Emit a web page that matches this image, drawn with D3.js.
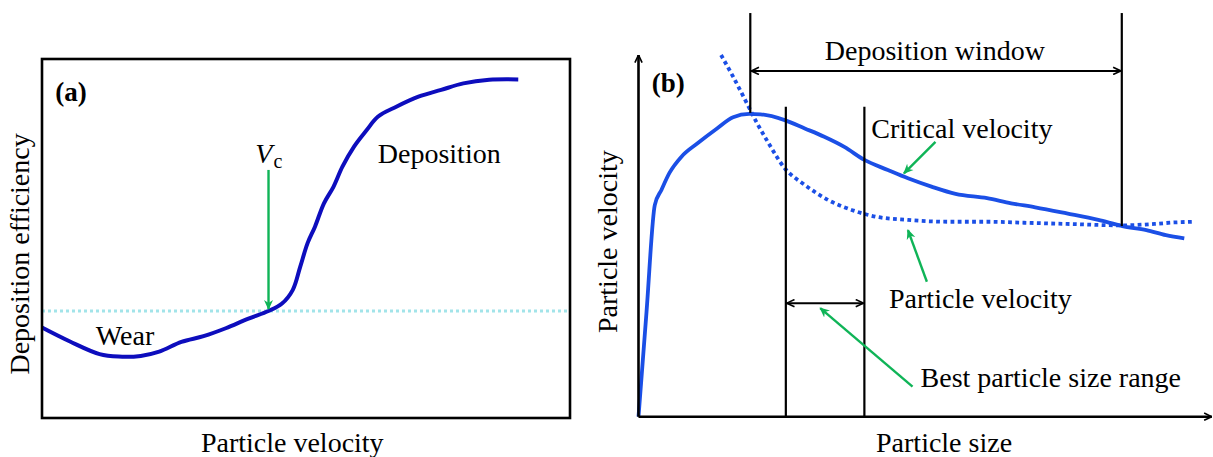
<!DOCTYPE html>
<html>
<head>
<meta charset="utf-8">
<script src="https://cdn.jsdelivr.net/npm/d3@7"></script>
<style>
  body { margin: 0; background: #fff; }
  svg text { font-family: "Liberation Serif", "Times New Roman", serif; fill: #000; }
</style>
</head>
<body>
<div id="chart"></div>
<script>
// panel (a): deposition efficiency vs particle velocity (schematic, 0-100 units)
const effVelocity = [0, 5.3, 10.9, 14.5, 18.7, 22.2, 26.4, 30.6, 34.8, 39.1, 42.9, 45.4, 47.5, 48.9, 50.3, 51.7, 53.4, 55.2, 56.9, 59.1, 61.5, 63.6, 67.1, 71.3, 75.6, 79.8, 84.7, 90.2]
const efficiency  = [25.2, 21.3, 17.8, 17.1, 17.3, 18.5, 21.2, 22.8, 25.0, 27.7, 29.8, 31.8, 35.7, 42.1, 48.7, 53.3, 59.8, 64.4, 70.0, 75.6, 80.2, 83.9, 86.7, 89.5, 91.4, 93.2, 94.2, 94.3]
const thresholdEff = 29.8
const vcVelocity = 42.9
const vcArrowTop = 69.1

// panel (b): velocity vs particle size
const critSize = [0, 1.4, 2.84, 4.0, 5.4, 7.5, 10.3, 13.7, 16.5, 19.3, 21.3, 25.5, 29.0, 32.4, 35.9, 39.4, 43.5, 47.0, 51.1, 55.3, 60.8, 65.0, 69.2, 74.7, 80.2, 84.4, 88.6, 92.0, 95.2]
const critVel  = [0, 29.0, 58.5, 62.7, 67.4, 71.9, 75.6, 79.7, 82.8, 83.7, 83.6, 82.0, 79.7, 77.4, 74.6, 71.0, 68.2, 65.9, 63.6, 61.6, 60.4, 59.0, 57.9, 56.2, 54.4, 52.7, 51.6, 50.2, 49.3]
const partSize = [14.4, 16.5, 18.6, 20.7, 22.7, 25.5, 29.0, 33.1, 37.3, 41.4, 47.0, 53.9, 60.8, 67.8, 74.7, 84.4, 90.0, 93.4, 96.9]
const partVel  = [100, 94.0, 87.6, 81.1, 75.6, 68.7, 64.1, 59.9, 57.1, 55.3, 54.4, 53.9, 53.9, 53.6, 53.3, 52.9, 53.3, 53.7, 53.9]
const windowSizes = [19.5, 84.3]      // deposition window limits
const windowBottoms = [84.0, 52.7]
const windowTop = 111.6
const windowArrowY = 95.6
const bestSizes = [25.7, 39.4]        // best particle size range
const bestTop = 85.7
const bestArrowY = 31.4

const width = 1213
const height = 457
const blueA = '#0d0dbd'
const blueB = '#1b4fe6'
const green = '#0fb457'

const svg = d3.select('#chart')
    .append('svg')
    .attr('width', width)
    .attr('height', height)

// arrow markers
const defs = svg.append('defs')
defs.append('marker')
    .attr('id', 'greenHead')
    .attr('markerUnits', 'userSpaceOnUse')
    .attr('viewBox', '0 0 10 10')
    .attr('refX', 9).attr('refY', 5)
    .attr('markerWidth', 10).attr('markerHeight', 10)
    .attr('orient', 'auto')
    .append('path')
    .attr('d', 'M0,0.5 L10,5 L0,9.5 L3,5 Z')
    .attr('fill', green)
defs.append('marker')
    .attr('id', 'blackHead')
    .attr('markerUnits', 'userSpaceOnUse')
    .attr('viewBox', '0 0 10 10')
    .attr('refX', 9.5).attr('refY', 5)
    .attr('markerWidth', 9).attr('markerHeight', 9)
    .attr('orient', 'auto-start-reverse')
    .append('path')
    .attr('d', 'M1,1 L9.5,5 L1,9')
    .attr('fill', 'none')
    .attr('stroke', '#000')
    .attr('stroke-width', 1.8)

// ---------- panel (a)
const xA = d3.scaleLinear().domain([0, 100]).range([42, 570])
const yA = d3.scaleLinear().domain([0, 100]).range([418, 59])
const gA = svg.append('g')

gA.append('line')
    .attr('x1', xA(0)).attr('x2', xA(100))
    .attr('y1', yA(thresholdEff)).attr('y2', yA(thresholdEff))
    .attr('stroke', '#a2e4e9')
    .attr('stroke-width', 3)
    .attr('stroke-dasharray', '3,3')

const lineA = d3.line()
    .x(d => xA(d[0]))
    .y(d => yA(d[1]))
    .curve(d3.curveCatmullRom)

gA.append('path')
    .datum(effVelocity.map((v, i) => [v, efficiency[i]]))
    .attr('d', lineA)
    .attr('fill', 'none')
    .attr('stroke', blueA)
    .attr('stroke-width', 4)

gA.append('rect')
    .attr('x', xA(0)).attr('y', yA(100))
    .attr('width', xA(100) - xA(0))
    .attr('height', yA(0) - yA(100))
    .attr('fill', 'none')
    .attr('stroke', '#000')
    .attr('stroke-width', 2.6)

gA.append('line')
    .attr('x1', xA(vcVelocity)).attr('x2', xA(vcVelocity))
    .attr('y1', yA(vcArrowTop)).attr('y2', yA(thresholdEff) - 2)
    .attr('stroke', green)
    .attr('stroke-width', 2.4)
    .attr('marker-end', 'url(#greenHead)')

gA.append('text')
    .attr('x', xA(2.5)).attr('y', yA(88.4))
    .attr('font-size', 27).attr('font-weight', 'bold')
    .text('(a)')

const vc = gA.append('text')
    .attr('x', xA(40.4)).attr('y', yA(71))
    .attr('font-size', 28)
vc.append('tspan').attr('font-style', 'italic').text('V')
vc.append('tspan').attr('font-size', 20).attr('dy', 5).attr('dx', 1).text('c')

gA.append('text')
    .attr('x', xA(63.6)).attr('y', yA(71))
    .attr('font-size', 28)
    .text('Deposition')

gA.append('text')
    .attr('x', xA(10.2)).attr('y', yA(20.3))
    .attr('font-size', 28)
    .text('Wear')

gA.append('text')
    .attr('x', xA(47.4)).attr('y', yA(-9.5))
    .attr('font-size', 28)
    .attr('text-anchor', 'middle')
    .text('Particle velocity')

gA.append('text')
    .attr('transform', `translate(${xA(-2.5)},${yA(45.7)}) rotate(-90)`)
    .attr('font-size', 28)
    .attr('text-anchor', 'middle')
    .text('Deposition efficiency')

// ---------- panel (b)
const xB = d3.scaleLinear().domain([0, 100]).range([638.5, 1211.8])
const yB = d3.scaleLinear().domain([0, 100]).range([416.7, 55])
const gB = svg.append('g')

const lineB = d3.line()
    .x(d => xB(d[0]))
    .y(d => yB(d[1]))
    .curve(d3.curveMonotoneX)

gB.append('path')
    .datum(partSize.map((v, i) => [v, partVel[i]]))
    .attr('d', lineB)
    .attr('fill', 'none')
    .attr('stroke', blueB)
    .attr('stroke-width', 3.8)
    .attr('stroke-dasharray', '3.8,3.4')

gB.append('path')
    .datum(critSize.map((v, i) => [v, critVel[i]]))
    .attr('d', lineB)
    .attr('fill', 'none')
    .attr('stroke', blueB)
    .attr('stroke-width', 3.8)

// axes with arrow tips
gB.append('line')
    .attr('x1', xB(0)).attr('x2', xB(0))
    .attr('y1', yB(0)).attr('y2', yB(100))
    .attr('stroke', '#000').attr('stroke-width', 2.6)
    .attr('marker-end', 'url(#blackHead)')
gB.append('line')
    .attr('x1', xB(0)).attr('x2', xB(100))
    .attr('y1', yB(0)).attr('y2', yB(0))
    .attr('stroke', '#000').attr('stroke-width', 2.6)
    .attr('marker-end', 'url(#blackHead)')

// deposition window
windowSizes.forEach((s, i) => {
    gB.append('line')
        .attr('x1', xB(s)).attr('x2', xB(s))
        .attr('y1', yB(windowTop)).attr('y2', yB(windowBottoms[i]))
        .attr('stroke', '#000').attr('stroke-width', 2.2)
})
gB.append('line')
    .attr('x1', xB(windowSizes[0]) + 1).attr('x2', xB(windowSizes[1]) - 1)
    .attr('y1', yB(windowArrowY)).attr('y2', yB(windowArrowY))
    .attr('stroke', '#000').attr('stroke-width', 2)
    .attr('marker-start', 'url(#blackHead)')
    .attr('marker-end', 'url(#blackHead)')

// best size range
bestSizes.forEach(s => {
    gB.append('line')
        .attr('x1', xB(s)).attr('x2', xB(s))
        .attr('y1', yB(bestTop)).attr('y2', yB(0))
        .attr('stroke', '#000').attr('stroke-width', 2.2)
})
gB.append('line')
    .attr('x1', xB(bestSizes[0]) + 1).attr('x2', xB(bestSizes[1]) - 1)
    .attr('y1', yB(bestArrowY)).attr('y2', yB(bestArrowY))
    .attr('stroke', '#000').attr('stroke-width', 2)
    .attr('marker-start', 'url(#blackHead)')
    .attr('marker-end', 'url(#blackHead)')

// green pointers: [from, to] in data units
const pointers = [
    [[51.8, 76.0], [46.3, 67.3]],
    [[50.3, 37.3], [47.0, 51.6]],
    [[47.8, 8.3], [31.7, 30.0]]
]
gB.selectAll('.pointer')
    .data(pointers)
    .join('line')
    .attr('class', 'pointer')
    .attr('x1', d => xB(d[0][0])).attr('y1', d => yB(d[0][1]))
    .attr('x2', d => xB(d[1][0])).attr('y2', d => yB(d[1][1]))
    .attr('stroke', green).attr('stroke-width', 2.4)
    .attr('marker-end', 'url(#greenHead)')

const labelsB = [
    { text: 'Deposition window', x: 51.7, y: 98.6, anchor: 'middle' },
    { text: 'Critical velocity', x: 40.6, y: 77.1, anchor: 'start' },
    { text: 'Particle velocity', x: 43.7, y: 30.1, anchor: 'start' },
    { text: 'Best particle size range', x: 49.2, y: 8.3, anchor: 'start' },
    { text: 'Particle size', x: 53.3, y: -9.7, anchor: 'middle' }
]
gB.selectAll('.lbl')
    .data(labelsB)
    .join('text')
    .attr('class', 'lbl')
    .attr('x', d => xB(d.x)).attr('y', d => yB(d.y))
    .attr('text-anchor', d => d.anchor)
    .attr('font-size', 28)
    .text(d => d.text)

gB.append('text')
    .attr('x', xB(2.3)).attr('y', yB(89.9))
    .attr('font-size', 27).attr('font-weight', 'bold')
    .text('(b)')

gB.append('text')
    .attr('transform', `translate(${xB(-3.75)},${yB(48.4)}) rotate(-90)`)
    .attr('font-size', 28)
    .attr('text-anchor', 'middle')
    .text('Particle velocity')
</script>
</body>
</html>
